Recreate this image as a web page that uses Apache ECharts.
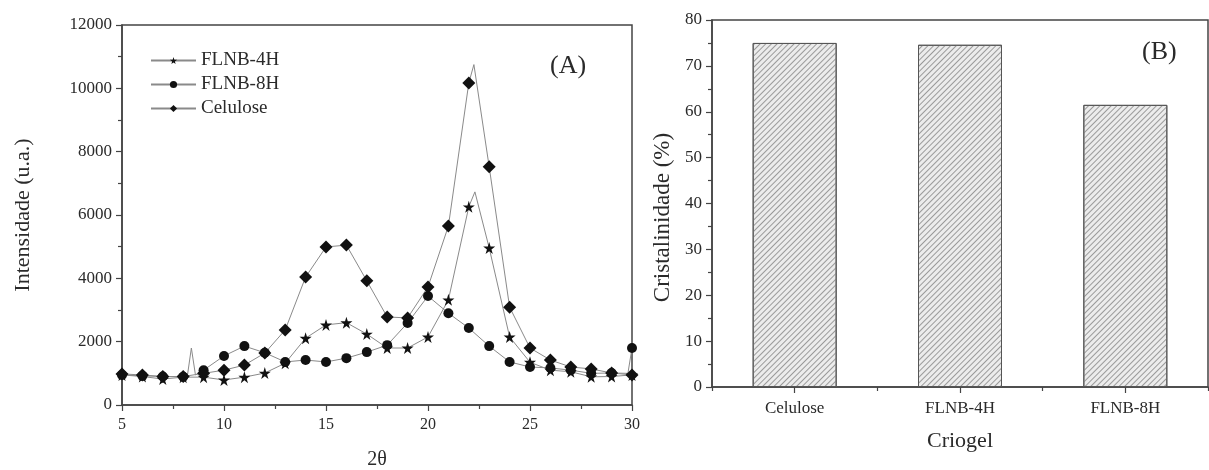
<!DOCTYPE html>
<html>
<head>
<meta charset="utf-8">
<script src="https://cdn.jsdelivr.net/npm/echarts@6/dist/echarts.min.js"></script>
<style>
html,body{margin:0;padding:0;background:#fff;}
#c{width:1209px;height:470px;}
</style>
</head>
<body>
<div id="c"></div>
<script>
// ---- data: panel A (XRD) ----
const theta = [5,6,7,8,9,10,11,12,13,14,15,16,17,18,19,20,21,22,23,24,25,26,27,28,29,30];
const flnb4h = [950,900,820,880,880,790,880,1010,1320,2110,2530,2600,2240,1800,1800,2150,3320,6260,4960,2150,1350,1100,1050,890,900,950];
const flnb8h = [950,920,900,890,1100,1550,1860,1650,1360,1420,1360,1480,1670,1890,2590,3440,2900,2430,1860,1360,1200,1170,1100,1000,1010,1800];
const celulose = [980,950,900,900,1000,1100,1260,1640,2370,4040,4990,5050,3920,2780,2750,3730,5650,10170,7520,3090,1800,1420,1200,1140,1010,950];
// extra trace points between markers
const flnb4hTrace = [[22.3,6730]];
const flnb8hTrace = [[8.2,900],[8.4,1800],[8.6,950],[29.8,1000]];
const celuloseTrace = [[22.25,10750]];

// ---- data: panel B (crystallinity) ----
const criogel = ['Celulose','FLNB-4H','FLNB-8H'];
const cristalinidade = [75.0, 74.6, 61.5];

const STAR = 'path://M50,0 L61,35 L98,35 L68,57 L79,91 L50,70 L21,91 L32,57 L2,35 L39,35 Z';
const FONT = 'Liberation Serif';

function buildData(values, trace){
  const pts = theta.map((x,i)=>({value:[x, values[i]]}));
  trace.forEach(p=>pts.push({value:[p[0],p[1]], symbol:'none'}));
  pts.sort((a,b)=>a.value[0]-b.value[0]);
  return pts;
}

const axisCol = '#444';
const txtCol = '#2a2a2a';
const plain = v => String(v);

const chart = echarts.init(document.getElementById('c'));
chart.setOption({
  animation:false,
  backgroundColor:'#fff',
  title:[
    {text:'(A)', left:545, top:48, textStyle:{fontFamily:FONT,fontSize:26,fontWeight:'normal',color:txtCol}},
    {text:'(B)', left:1137, top:34, textStyle:{fontFamily:FONT,fontSize:26,fontWeight:'normal',color:txtCol}}
  ],
  legend:{
    left:150, top:51, orient:'vertical', padding:0,
    itemWidth:45, itemHeight:9, itemGap:5,
    textStyle:{fontFamily:FONT,fontSize:19,color:txtCol,lineHeight:19},
    data:['FLNB-4H','FLNB-8H','Celulose']
  },
  grid:[
    {left:122, top:25, width:510, height:380, show:true, borderColor:axisCol, borderWidth:1.5, outerBoundsMode:'none', containLabel:false},
    {left:712, top:20, width:496, height:367, show:true, borderColor:axisCol, borderWidth:1.5, outerBoundsMode:'none', containLabel:false}
  ],
  xAxis:[
    {gridIndex:0, type:'value', min:5, max:30, interval:5,
     name:'2θ', nameLocation:'middle', nameGap:45,
     nameTextStyle:{fontFamily:FONT,fontSize:20,color:txtCol},
     axisLine:{lineStyle:{color:axisCol,width:1.5}},
     axisTick:{show:true,length:6,lineStyle:{color:axisCol,width:1.2}},
     minorTick:{show:true,splitNumber:2,length:4,lineStyle:{color:axisCol,width:1.2}},
     splitLine:{show:false},
     axisLabel:{fontFamily:FONT,fontSize:16,color:txtCol,margin:12,formatter:plain}},
    {gridIndex:1, type:'category', data:criogel, position:'bottom',
     name:'Criogel', nameLocation:'middle', nameGap:43,
     nameTextStyle:{fontFamily:FONT,fontSize:22,color:txtCol},
     axisLine:{lineStyle:{color:axisCol,width:1.5}},
     axisTick:{show:true,alignWithLabel:true,length:6,lineStyle:{color:axisCol,width:1.2}},
     axisLabel:{fontFamily:FONT,fontSize:17,color:txtCol,margin:13}},
    {gridIndex:1, type:'category', data:criogel, position:'bottom', offset:0,
     axisLine:{show:false},
     axisTick:{show:true,alignWithLabel:false,length:4,lineStyle:{color:axisCol,width:1.2}},
     axisLabel:{show:false}}
  ],
  yAxis:[
    {gridIndex:0, type:'value', min:0, max:12000, interval:2000,
     name:'Intensidade (u.a.)', nameLocation:'middle', nameGap:88,
     nameTextStyle:{fontFamily:FONT,fontSize:22,color:txtCol},
     axisLine:{show:true,lineStyle:{color:axisCol,width:1.5}},
     axisTick:{show:true,length:6,lineStyle:{color:axisCol,width:1.2}},
     minorTick:{show:true,splitNumber:2,length:4,lineStyle:{color:axisCol,width:1.2}},
     splitLine:{show:false},
     axisLabel:{fontFamily:FONT,fontSize:17,color:txtCol,margin:10,formatter:plain}},
    {gridIndex:1, type:'value', min:0, max:80, interval:10,
     name:'Cristalinidade (%)', nameLocation:'middle', nameGap:38,
     nameTextStyle:{fontFamily:FONT,fontSize:23,color:txtCol,padding:[0,28,0,0]},
     axisLine:{show:true,lineStyle:{color:axisCol,width:1.5}},
     axisTick:{show:true,length:6,lineStyle:{color:axisCol,width:1.2}},
     minorTick:{show:true,splitNumber:2,length:4,lineStyle:{color:axisCol,width:1.2}},
     splitLine:{show:false},
     axisLabel:{fontFamily:FONT,fontSize:17,color:txtCol,margin:10,formatter:plain}}
  ],
  series:[
    {name:'FLNB-4H', type:'line', xAxisIndex:0, yAxisIndex:0,
     data:buildData(flnb4h, flnb4hTrace), symbol:STAR, symbolSize:12, showAllSymbol:true,
     lineStyle:{color:'#8a8a8a',width:1}, itemStyle:{color:'#111'}},
    {name:'FLNB-8H', type:'line', xAxisIndex:0, yAxisIndex:0,
     data:buildData(flnb8h, flnb8hTrace), symbol:'circle', symbolSize:10, showAllSymbol:true,
     lineStyle:{color:'#8a8a8a',width:1}, itemStyle:{color:'#111'}},
    {name:'Celulose', type:'line', xAxisIndex:0, yAxisIndex:0,
     data:buildData(celulose, celuloseTrace), symbol:'diamond', symbolSize:13, showAllSymbol:true,
     lineStyle:{color:'#8a8a8a',width:1}, itemStyle:{color:'#111'}},
    {name:'Cristalinidade', type:'bar', xAxisIndex:1, yAxisIndex:1,
     data:cristalinidade, barWidth:84,
     itemStyle:{color:'#ececec', borderColor:'#555', borderWidth:1,
       decal:{symbol:'rect', symbolSize:1, color:'#9a9a9a', dashArrayX:[1,0], dashArrayY:[1,3], rotation:-Math.PI/4}}}
  ]
});
</script>
</body>
</html>
